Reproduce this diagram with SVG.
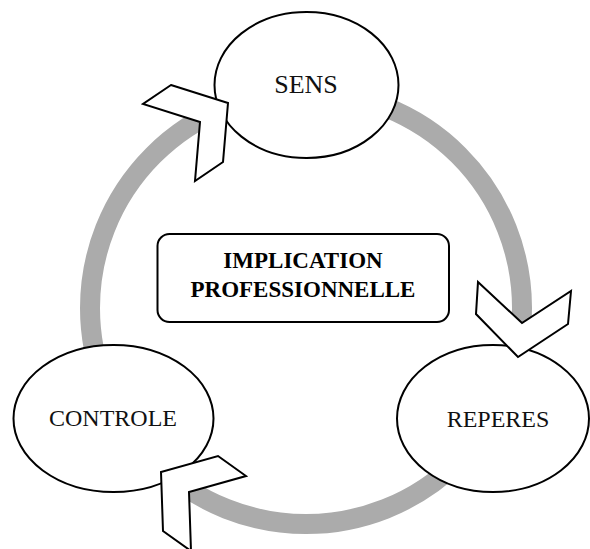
<svg xmlns="http://www.w3.org/2000/svg" width="590" height="549" viewBox="0 0 590 549">
<style>
.node{fill:#fff;stroke:#000;stroke-width:2}
.chev{fill:#fff;stroke:#000;stroke-width:2;stroke-linejoin:miter}
.lbl{font-family:"Liberation Serif","Times New Roman",serif;font-size:24px;fill:#111;text-anchor:middle}
.title{font-family:"Liberation Serif","Times New Roman",serif;font-size:23px;font-weight:bold;fill:#000;text-anchor:middle}
</style>
<rect width="590" height="549" fill="#fff"/>
<g id="connectors">
<circle cx="306" cy="308" r="216" fill="none" stroke="#ababab" stroke-width="20"/>
</g>
<g id="center">
<rect x="157.5" y="234" width="291.5" height="88" rx="12" ry="12" class="node"/>
<text x="303" y="268" class="title">IMPLICATION</text>
<text x="303" y="296.5" class="title">PROFESSIONNELLE</text>
</g>
<g id="sens">
<ellipse cx="306.5" cy="85" rx="92" ry="73" class="node"/>
<text x="306" y="93" class="lbl" style="font-size:26px">SENS</text>
</g>
<g id="reperes">
<ellipse cx="493" cy="418.5" rx="96" ry="73.5" class="node"/>
<text x="498" y="426.5" class="lbl">REPERES</text>
</g>
<g id="controle">
<ellipse cx="113.5" cy="418.5" rx="100" ry="73.5" class="node"/>
<text x="113" y="426" class="lbl">CONTROLE</text>
</g>
<g id="arrows">
<polygon class="chev" points="171,85 228,103 223,162 195,181 200,122 143,104"/>
<polygon class="chev" points="478,282 522,323 571,291 568,324 518,357 476,314"/>
<polygon class="chev" points="218,456 246,476 189,492 191,551 163,531 161,472"/>
</g>
</svg>
